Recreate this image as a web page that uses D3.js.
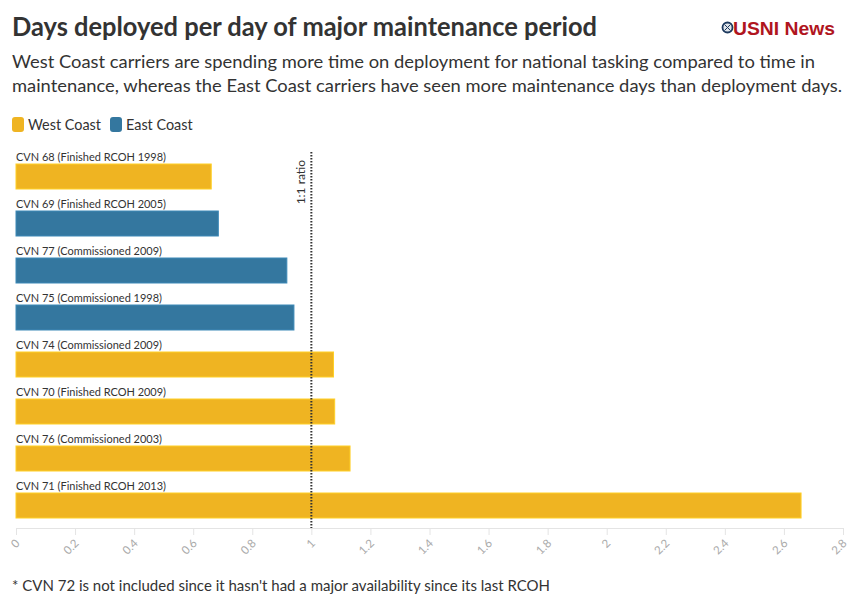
<!DOCTYPE html>
<html>
<head>
<meta charset="utf-8">
<script src="https://cdn.jsdelivr.net/npm/d3@7"></script>
<style>
  html, body { margin: 0; padding: 0; background: #fff; }
  svg { display: block; }
</style>
</head>
<body>
<svg id="chart" width="861" height="602"></svg>
<script>
// ---- data ----
const categories = [
  "CVN 68 (Finished RCOH 1998)",
  "CVN 69 (Finished RCOH 2005)",
  "CVN 77 (Commissioned 2009)",
  "CVN 75 (Commissioned 1998)",
  "CVN 74 (Commissioned 2009)",
  "CVN 70 (Finished RCOH 2009)",
  "CVN 76 (Commissioned 2003)",
  "CVN 71 (Finished RCOH 2013)"
];
const values = [0.661, 0.685, 0.917, 0.941, 1.075, 1.079, 1.131, 2.658];
const coast = ["West Coast", "East Coast", "East Coast", "East Coast", "West Coast", "West Coast", "West Coast", "West Coast"];
const seriesNames = ["West Coast", "East Coast"];
const seriesColors = ["#efb422", "#34779f"];
const tickValues = [0, 0.2, 0.4, 0.6, 0.8, 1, 1.2, 1.4, 1.6, 1.8, 2, 2.2, 2.4, 2.6, 2.8];
const tickLabels = ["0", "0.2", "0.4", "0.6", "0.8", "1", "1.2", "1.4", "1.6", "1.8", "2", "2.2", "2.4", "2.6", "2.8"];
const referenceValue = 1;
const referenceLabel = "1:1 ratio";

const titleText = "Days deployed per day of major maintenance period";
const subtitleLines = [
  "West Coast carriers are spending more time on deployment for national tasking compared to time in",
  "maintenance, whereas the East Coast carriers have seen more maintenance days than deployment days."
];
const footnoteText = "* CVN 72 is not included since it hasn't had a major availability since its last RCOH";

const FONT = "Lato, 'Noto Sans', sans-serif";
const svg = d3.select("#chart");

// narrow text a bit to approximate a condensed humanist face
function squeeze(sel, factor) {
  sel.each(function () {
    const w = this.getComputedTextLength();
    d3.select(this).attr("textLength", w * factor).attr("lengthAdjust", "spacingAndGlyphs");
  });
}

// ---- header ----
svg.append("text")
  .attr("x", 12).attr("y", 36)
  .attr("font-family", FONT).attr("font-weight", 700).attr("font-size", 26)
  .attr("fill", "#333")
  .attr("textLength", 585).attr("lengthAdjust", "spacingAndGlyphs")
  .text(titleText);

subtitleLines.forEach((t, i) => {
  svg.append("text")
    .attr("x", 12).attr("y", 68 + i * 24)
    .attr("font-family", FONT).attr("font-size", 18)
    .attr("fill", "#333")
    .attr("textLength", i === 0 ? 803 : 830).attr("lengthAdjust", "spacingAndGlyphs")
    .text(t);
});

// logo
const logo = svg.append("g");
logo.append("circle").attr("cx", 727.5).attr("cy", 27.5).attr("r", 5)
  .attr("fill", "#dfe4ea").attr("stroke", "#1e3a5f").attr("stroke-width", 1.8);
logo.append("path").attr("d", "M724.5,24.5L730.5,30.5M730.5,24.5L724.5,30.5")
  .attr("stroke", "#1e3a5f").attr("stroke-width", 1);
logo.append("text")
  .attr("x", 733).attr("y", 35)
  .attr("font-family", "'Liberation Sans Narrow', 'Liberation Sans', Arial, sans-serif")
  .attr("font-weight", 700).attr("font-size", 19)
  .attr("fill", "#b0151e")
  .attr("textLength", 102).attr("lengthAdjust", "spacingAndGlyphs")
  .text("USNI News");

// ---- legend ----
const color = d3.scaleOrdinal().domain(seriesNames).range(seriesColors);
const legendX = [12, 110];
seriesNames.forEach((s, i) => {
  const g = svg.append("g").attr("transform", `translate(${legendX[i]},117)`);
  g.append("rect").attr("width", 12).attr("height", 15).attr("rx", 3)
    .attr("fill", color(s));
  g.append("text").attr("x", 16).attr("y", 13)
    .attr("font-family", FONT).attr("font-size", 15).attr("fill", "#333")
    .call(t => t.text(s))
    .call(t => squeeze(t, 0.96));
});

// ---- scales ----
const x = d3.scaleLinear().domain([0, 2.8]).range([16, 843]);
const y = d3.scaleBand().domain(categories).range([164, 518])
  .paddingInner(22 / 47).paddingOuter(0);

// ---- axis ----
const axisY = 528;
const axis = d3.axisBottom(x)
  .tickValues(tickValues)
  .tickFormat((d, i) => tickLabels[i])
  .tickSize(7).tickSizeOuter(0).tickPadding(6);
const ax = svg.append("g").attr("transform", `translate(0,${axisY})`).call(axis);
ax.select(".domain").attr("stroke", "#e4e4e4");
ax.selectAll(".tick line").attr("stroke", "#e4e4e4");
ax.selectAll(".tick text")
  .attr("font-family", FONT).attr("font-size", 11.5).attr("fill", "#aaa")
  .attr("text-anchor", "end")
  .attr("dy", null).attr("y", 0)
  .attr("transform", "translate(4,16) rotate(-45)");

// ---- bars ----
const rows = categories.map((c, i) => ({ cat: c, value: values[i], coast: coast[i] }));
svg.append("g").selectAll("rect").data(rows).join("rect")
  .attr("x", x(0))
  .attr("y", d => y(d.cat))
  .attr("width", d => x(d.value) - x(0))
  .attr("height", y.bandwidth())
  .attr("fill", d => color(d.coast))
  .attr("stroke", d => d3.color(color(d.coast)).brighter(0.4))
  .attr("stroke-width", 1);

svg.append("g").selectAll("text").data(rows).join("text")
  .attr("x", x(0))
  .attr("y", d => y(d.cat) - 3.5)
  .attr("font-family", FONT).attr("font-size", 12).attr("fill", "#333")
  .text(d => d.cat)
  .call(t => squeeze(t, 0.915));

// ---- reference line ----
svg.append("line")
  .attr("x1", x(referenceValue)).attr("x2", x(referenceValue))
  .attr("y1", 152).attr("y2", axisY)
  .attr("stroke", "#333").attr("stroke-width", 2)
  .attr("stroke-dasharray", "1.5,1.5");
svg.append("text")
  .attr("transform", `translate(${x(referenceValue) - 6},160) rotate(-90)`)
  .attr("text-anchor", "end")
  .attr("font-family", FONT).attr("font-size", 12).attr("fill", "#333")
  .text(referenceLabel);

// ---- footnote ----
svg.append("text")
  .attr("x", 12).attr("y", 591)
  .attr("font-family", FONT).attr("font-size", 15).attr("fill", "#333")
  .attr("textLength", 538).attr("lengthAdjust", "spacingAndGlyphs")
  .text(footnoteText);
</script>
</body>
</html>
